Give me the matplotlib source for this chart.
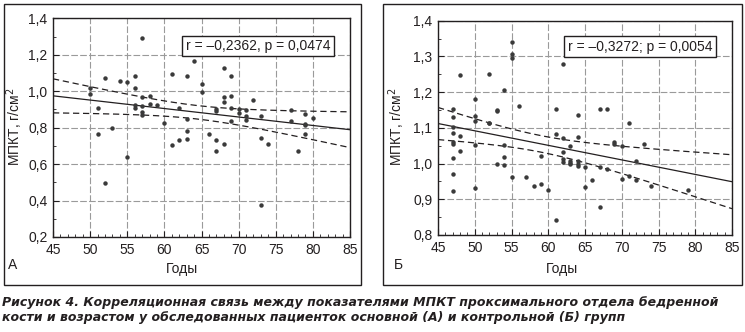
import numpy as np
import matplotlib
matplotlib.use("Agg")
from matplotlib import pyplot as plt
from matplotlib.patches import Rectangle
from matplotlib.ticker import MultipleLocator, FuncFormatter

plt.rcParams['font.family'] = ['Liberation Sans', 'DejaVu Sans']

# group A (main)
age_a = [50, 50, 51, 51, 52, 52, 53, 54, 55, 55,
         56, 56, 56, 56, 57, 57, 57, 57, 57, 58, 58, 59, 60,
         61, 61, 62, 62, 63, 63, 63, 63, 64, 65, 65, 66,
         67, 67, 67, 67, 68, 68, 68, 68, 69, 69, 69, 69,
         70, 70, 71, 71, 71, 72, 73, 73, 73, 74,
         77, 77, 78, 79, 79, 79, 79, 80]
bmd_a = [1.020, 0.982, 0.908, 0.767, 1.075, 0.494, 0.800, 1.055, 1.050, 0.639,
         1.083, 1.015, 0.923, 0.908, 1.290, 0.969, 0.921, 0.886, 0.868, 0.974, 0.932, 0.923, 0.828,
         1.095, 0.706, 0.908, 0.732, 1.083, 0.850, 0.780, 0.739, 1.163, 1.042, 0.996, 0.767,
         0.905, 0.890, 0.734, 0.673, 1.130, 0.969, 0.941, 0.712, 1.083, 0.974, 0.908, 0.835,
         0.901, 0.881, 0.895, 0.862, 0.840, 0.954, 0.862, 0.741, 0.378, 0.712,
         0.895, 0.835, 0.673, 0.873, 0.822, 0.813, 0.767, 0.855]

# group B (control)
age_b = [47, 47, 47, 47, 47, 47, 47, 47, 47, 48, 48, 48,
         50, 50, 50, 50, 50, 52, 52, 52, 53, 53, 53,
         54, 54, 54, 54, 55, 55, 55, 55, 56, 57, 58, 59, 59, 60,
         61, 61, 61, 62, 62, 62, 62, 62, 63, 63, 63, 63,
         64, 64, 64, 64, 64, 65, 65, 66, 67, 67, 67, 68, 68,
         69, 69, 70, 70, 71, 71, 72, 72, 73, 74, 79]
bmd_b = [1.152, 1.131, 1.101, 1.085, 1.061, 1.055, 1.016, 0.972, 0.923, 1.248, 1.077, 1.036,
         1.180, 1.132, 1.119, 1.053, 0.931, 1.252, 1.114, 1.113, 1.149, 1.146, 0.999,
         1.207, 1.053, 1.019, 0.996, 1.339, 1.307, 1.296, 0.961, 1.162, 0.961, 0.937, 1.022, 0.944, 0.927,
         1.152, 1.084, 0.841, 1.279, 1.071, 1.032, 1.012, 1.005, 1.050, 1.006, 1.002, 0.998,
         1.135, 1.074, 1.006, 1.000, 0.994, 0.991, 0.933, 0.954, 1.152, 0.989, 0.878, 1.152, 0.985,
         1.059, 1.056, 1.049, 0.957, 1.114, 0.964, 1.008, 0.954, 1.056, 0.937, 0.927]

stat_a = "r = \u20130,2362, p = 0,0474"
stat_b = "r = \u20130,3272; p = 0,0054"

caption = ("Рисунок 4. Корреляционная связь между показателями МПКТ проксимального отдела бедренной\n"
           "кости и возрастом у обследованных пациенток основной (А) и контрольной (Б) групп")

W, H = 745, 332
INK = '#231f20'


def fx(px):
    return px / W


def fy(py):
    return 1 - py / H


def comma(v, pos):
    return ("%.1f" % v).replace('.', ',')


def panel(rect, ages, vals, ylim, ystep, stat, stat_xy):
    ax = fig.add_axes(rect)
    x = np.array(ages, float)
    y = np.array(vals, float)

    # linear fit with 95% band of the mean
    b, a = np.polyfit(x, y, 1)
    n = len(x)
    res = y - (a + b * x)
    s = np.sqrt(np.sum(res ** 2) / (n - 2))
    sxx = np.sum((x - x.mean()) ** 2)
    xx = np.linspace(45, 85, 200)
    yy = a + b * xx
    half = 1.994 * s * np.sqrt(1.0 / n + (xx - x.mean()) ** 2 / sxx)

    ax.plot(x, y, 'o', color='#3a3a3a', markersize=3.2, markeredgewidth=0, zorder=3)
    ax.plot(xx, yy, '-', color=INK, linewidth=0.9, zorder=2)
    ax.plot(xx, yy + half, color=INK, linewidth=0.9, dashes=(5, 3), zorder=2)
    ax.plot(xx, yy - half, color=INK, linewidth=0.9, dashes=(5, 3), zorder=2)

    ax.set_xlim(45, 85)
    ax.set_ylim(*ylim)
    ax.xaxis.set_major_locator(MultipleLocator(5))
    ax.xaxis.set_minor_locator(MultipleLocator(1))
    ax.yaxis.set_major_locator(MultipleLocator(ystep))
    ax.yaxis.set_minor_locator(MultipleLocator(ystep / 2))
    ax.yaxis.set_major_formatter(FuncFormatter(comma))
    ax.grid(True, which='major', color='#9a9a9a', linewidth=0.8, dashes=(6, 2))
    ax.tick_params(which='both', direction='in', colors=INK, labelsize=10, pad=4)
    ax.tick_params(which='major', length=4)
    ax.tick_params(which='minor', length=2.5)
    for sp in ax.spines.values():
        sp.set_color(INK)
        sp.set_linewidth(1.0)
    ax.text(stat_xy[0], stat_xy[1], stat, transform=fig.transFigure, fontsize=10,
            color=INK, ha='center', va='center',
            bbox=dict(boxstyle='square,pad=0.25', facecolor='white', edgecolor=INK, linewidth=1.0),
            zorder=5)
    return ax


fig = plt.figure(figsize=(W / 100, H / 100), dpi=100)

# panel frames
fig.add_artist(Rectangle((fx(4), fy(285)), fx(357), 281 / H, transform=fig.transFigure,
                         fill=False, edgecolor=INK, linewidth=1.0))
fig.add_artist(Rectangle((fx(383), fy(285)), fx(359), 281 / H, transform=fig.transFigure,
                         fill=False, edgecolor=INK, linewidth=1.0))

panel([fx(53), fy(237), fx(297), (237 - 18.3) / H], age_a, bmd_a, (0.2, 1.4), 0.2,
      stat_a, (fx(258), fy(46)))
panel([fx(438), fy(235), fx(294), (235 - 20.7) / H], age_b, bmd_b, (0.8, 1.4), 0.1,
      stat_b, (fx(640), fy(46.5)))

for cx, lx in [(182, 15), (562, 397)]:
    fig.text(fx(cx), fy(269), "Годы", fontsize=10, color=INK, ha='center', va='center')
    fig.text(fx(lx), fy(127), "МПКТ, г/см$^2$", fontsize=10, color=INK, rotation=90,
             ha='center', va='center')
fig.text(fx(8), fy(265), "А", fontsize=10, color=INK, ha='left', va='center')
fig.text(fx(394), fy(265), "Б", fontsize=10, color=INK, ha='left', va='center')

fig.text(fx(2), fy(296), caption, fontsize=9.0, fontweight='bold', fontstyle='italic',
         family='DejaVu Sans', color=INK, ha='left', va='top', linespacing=1.25)

fig.savefig("out.png", dpi=100)
